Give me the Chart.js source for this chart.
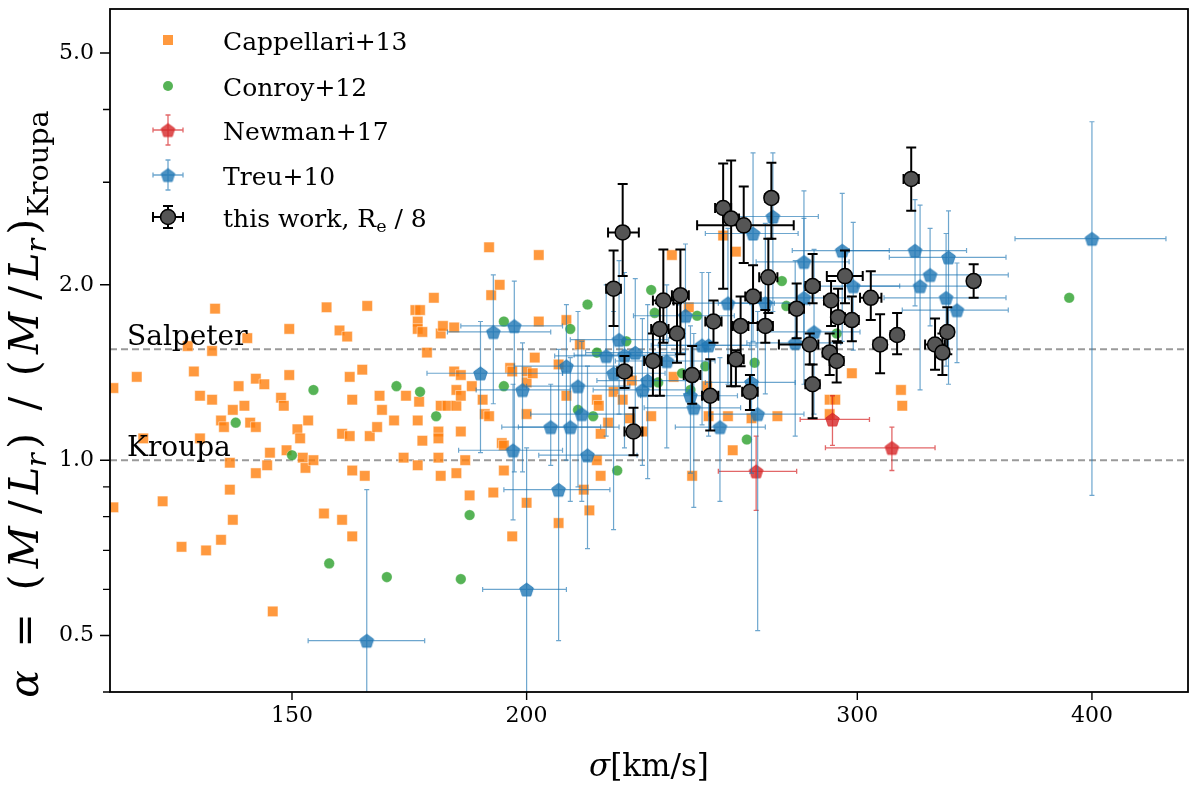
<!DOCTYPE html>
<html><head><meta charset="utf-8">
<script src="https://cdn.jsdelivr.net/npm/chart.js@4.4.1/dist/chart.umd.min.js"></script>
<style>html,body{margin:0;padding:0;background:#fff;}#wrap{width:1200px;height:788px;}</style>
</head><body><div id="wrap"><canvas id="c" width="1200" height="788"></canvas></div>
<script>
// ---------- data ----------
const xTickValues = [150, 200, 300, 400];
const xTickLabels = ['150', '200', '300', '400'];
const yTickValues = [0.5, 1.0, 2.0, 5.0];
const yTickLabels = ['0.5', '1.0', '2.0', '5.0'];
const yMinorTicks = [0.4, 0.6, 0.7, 0.8, 0.9, 3, 4];
const xRange = [120, 450];
const yRange = [0.40, 5.95];
const salpeterLevel = 1.55;
const kroupaLevel = 1.0;

const cappSigma = [120.5,124,120.5,125,128,131,135,137.5,139.5,132,136.5,133,134,136,136,134,137.5,138,139,139,139.5,140.5,141.5,142,142.5,143.5,143.5,145,143.5,145.5,146,148,148.5,149,149.5,149.5,151,151.5,152,152.5,153,154,156,159.5,156.5,159,160.5,159.5,161,161.5,161,161.5,161.5,164,164.5,163.5,165,166.5,167,167.5,170,146.5,172.5,172,174.5,175.5,175,175,176,175,175.3,175,176,177,178.5,180,180.5,183,179.5,179.5,179.5,180,180,181.5,183.5,183.5,184.5,183,184.5,184.5,183.5,185.5,186.5,187,189.5,190,191,191,191.5,193.5,192,194,194.5,194.5,196,196.5,196.5,200,200,200,200,201.5,202,203,203,208,208,210,210,213.5,214.5,216,218,218.5,218,219,219,221,222.5,225,227,227.5,230.5,233,239,239.5,244,245,249.5,250,254.5,256,258.5,257.5,263.5,272,290,292,290,298,316.5,317];
const cappAlpha = [1.33,1.39,0.83,1.09,0.85,0.71,0.70,0.73,0.79,1.57,1.82,1.42,1.29,1.27,1.54,1.09,1.17,1.14,0.99,0.89,1.22,1.34,1.24,1.62,1.16,1.14,1.38,1.35,0.95,0.98,1.03,1.28,1.24,1.04,1.68,1.40,1.13,1.09,1.01,0.97,1.17,1.00,0.81,0.79,1.83,1.67,1.63,1.11,1.10,1.27,1.39,0.96,0.74,0.94,1.84,1.43,1.10,1.14,1.29,1.22,1.17,0.55,1.29,1.01,1.81,1.81,1.73,1.68,1.66,1.17,1.26,0.98,1.08,1.53,1.90,1.65,1.70,1.69,1.01,1.12,1.09,0.94,1.24,1.24,1.24,1.32,1.29,1.42,1.40,1.12,0.95,1.00,0.87,1.34,1.27,1.20,1.19,2.32,1.92,2.00,0.88,1.07,1.06,0.96,1.44,1.42,0.74,1.42,1.36,1.20,0.845,1.41,1.50,2.25,1.73,1.46,0.78,1.74,1.29,1.58,0.89,0.82,1.27,1.24,1.00,0.94,1.11,1.16,1.31,1.27,1.18,1.37,1.12,1.19,2.25,1.39,1.83,0.94,1.34,1.19,2.43,1.19,2.28,1.04,1.18,1.19,1.27,1.27,1.20,1.41,1.32,1.24];

const conroySigma = [140,150,154,157,168.5,170.5,179,184.5,186.5,175.5,194.5,194.5,211,215.5,213,217,218,226,223.5,233,234,246.5,242,249,244.5,235,264.5,262,275,273.5,292.5,389];
const conroyAlpha = [1.16,1.02,1.32,0.665,0.63,1.34,1.19,0.625,0.805,1.31,1.73,1.34,1.68,1.85,1.22,1.19,1.53,1.60,0.96,1.96,1.79,1.77,1.41,1.45,1.32,1.36,1.47,1.085,1.84,2.03,1.65,1.90];

const newmanSigma = [265, 291, 313];
const newmanAlpha = [0.957, 1.175, 1.05];
const newmanSigmaLo = [253, 279.7, 288.5];
const newmanSigmaHi = [278.5, 304.5, 330];
const newmanAlphaLo = [0.82, 1.06, 0.96];
const newmanAlphaHi = [1.10, 1.29, 1.14];

const treuSigma   = [164.4,200,208,192,197,189,199,196.7,210,213,214,206,211,215.5,220.5,222.5,224,225.5,228.5,230.5,232,237.5,243,244.5,245.5,248,250,253.5,256,264,265.5,268,270.5,263.5,278,281,281,284.5,294.5,298.5,322,335.5,328,324,334.5,339,400];
const treuAlpha   = [0.49,0.60,0.89,1.66,1.70,1.41,1.32,1.04,1.45,1.34,1.20,1.14,1.14,1.02,1.51,1.41,1.61,1.515,1.53,1.32,1.37,1.48,1.77,1.29,1.23,1.575,1.575,1.14,1.86,2.45,1.20,1.86,2.62,1.36,1.59,2.19,1.90,1.66,2.29,1.99,2.29,2.23,2.08,1.99,1.90,1.81,2.40];
const treuSigmaLo = [153,189.5,194.5,181.5,184.5,177,188,184,197,200,201,194,198,203,207,209,211,212,215,217,218,223,228,230,231,233,235,240,241,249,250,253,255,249,262,265,265,268,277,281,297,312,305,300,310,317,364];
const treuSigmaHi = [176.5,210,221.5,206,209,209,211,209,224,227,228,219,224,229,235,237,238,240,243,245,246,252,258,259,260,263,265,268,271,279,281,283,286,278,294,297,297,301,312,316,343,360,361,348,360,361,438];
const treuAlphaLo = [0.27,0.30,0.49,1.25,0.955,1.03,0.955,0.79,1.00,0.90,0.85,0.98,0.85,0.705,1.10,0.76,1.20,1.05,1.10,0.98,0.93,1.05,1.30,0.95,0.83,1.15,1.10,0.85,1.35,1.60,0.51,1.30,1.80,0.95,1.10,1.60,1.35,1.20,1.60,1.545,1.84,1.35,1.70,1.32,1.45,1.47,0.87];
const treuAlphaHi = [0.89,1.05,1.55,2.08,2.03,1.73,1.59,1.35,1.85,1.80,1.60,1.35,1.50,1.45,2.00,1.80,2.20,2.10,2.05,1.75,1.85,2.00,2.35,1.70,1.65,2.10,2.10,1.50,2.50,3.37,1.80,2.55,3.37,1.85,2.20,2.90,2.60,2.30,2.87,2.56,2.80,2.68,2.50,2.74,2.45,2.18,3.81];

const workSigma   = [225,222.5,236.5,241.5,235.5,240.5,233.5,225.5,245,250.5,251.5,254.5,257,261,270,269,264,260,268,258.5,263,278.5,284,283,284,228,320.5,295.5,290.5,293,298,305,290,292.5,308.5,315,330,333,335,346];
const workAlpha   = [2.46,1.97,1.88,1.92,1.68,1.65,1.48,1.42,1.40,1.29,1.73,2.71,2.60,2.53,2.82,2.06,1.91,1.70,1.70,1.49,1.31,1.82,1.99,1.58,1.35,1.12,3.04,2.07,1.88,1.76,1.74,1.90,1.53,1.48,1.58,1.64,1.58,1.53,1.66,2.03];
const workSigmaLo = [221,220.5,233.5,239,233,238.5,231,223.5,242.5,248,249,252,254.5,246.5,268,266,261.5,257.5,265.5,256,260.5,276,281.5,272.5,281.5,225.5,317.5,289,288,290.5,295.5,301,287.5,290,306,312.5,326,330.5,332.5,343.5];
const workSigmaHi = [229.5,224.5,239.5,244,238,242.5,236,227.5,247.5,253,254,257,259.5,277.5,272,272,266.5,262.5,270.5,261,265.5,281,286.5,286,286.5,230.5,323.5,302,293,295.5,300.5,309,292.5,295,311,317.5,334,335.5,337.5,348.5];
const workAlphaLo = [2.07,1.70,1.59,1.52,1.29,1.47,1.29,1.33,1.25,1.125,1.59,1.97,1.34,2.18,2.40,1.79,1.72,1.45,1.59,1.34,1.22,1.62,1.86,1.46,1.18,1.02,2.68,1.86,1.70,1.59,1.60,1.74,1.40,1.36,1.41,1.52,1.43,1.40,1.52,1.90];
const workAlphaHi = [2.98,2.29,2.30,2.30,1.86,1.86,1.65,1.51,1.57,1.49,1.88,3.23,3.27,2.95,3.24,2.40,2.16,1.91,1.81,1.545,1.40,2.01,2.26,1.65,1.46,1.23,3.44,2.29,2.03,1.97,1.91,2.11,1.65,1.60,1.78,1.79,1.75,1.65,1.83,2.17];

const seriesNames = ['Cappellari+13', 'Conroy+12', 'Newman+17', 'Treu+10', 'this work, R', 'e', ' / 8'];

// ---------- helpers ----------
const FONT = "'DejaVu Serif', 'Liberation Serif', serif";
const pts = (xs, ys) => xs.map((v, i) => ({x: v, y: ys[i]}));
function pentagon(fill, stroke, r) {
  const c = document.createElement('canvas');
  const s = Math.ceil(r * 2 + 4);
  c.width = s; c.height = s;
  const g = c.getContext('2d');
  g.translate(s / 2, s / 2 + 0.8);
  g.beginPath();
  for (let i = 0; i < 5; i++) {
    const a = -Math.PI / 2 + i * 2 * Math.PI / 5;
    const px = r * Math.cos(a), py = r * Math.sin(a);
    if (i) g.lineTo(px, py); else g.moveTo(px, py);
  }
  g.closePath();
  g.fillStyle = fill; g.fill();
  g.lineWidth = 0.8; g.strokeStyle = stroke; g.stroke();
  return c;
}
const C = {
  orange: 'rgba(255,127,14,0.8)',
  green: 'rgba(44,160,44,0.8)',
  red: 'rgba(214,39,40,0.8)',
  redErr: 'rgba(214,39,40,0.7)',
  blue: 'rgba(31,119,180,0.8)',
  blueErr: 'rgba(31,119,180,0.65)',
  dark: '#555555'
};
const bluePent = pentagon(C.blue, 'rgba(31,119,180,0.9)', 7.2);
const redPent = pentagon(C.red, 'rgba(214,39,40,0.9)', 7.2);

const errPlugin = {
  id: 'errbars',
  beforeDatasetDraw(chart, args) {
    const ds = chart.data.datasets[args.index];
    if (!ds.err) return;
    const {ctx, chartArea: a, scales: {x, y}} = chart;
    const e = ds.err;
    ctx.save();
    ctx.beginPath(); ctx.rect(a.left, a.top, a.right - a.left, a.bottom - a.top); ctx.clip();
    ctx.strokeStyle = e.color; ctx.lineWidth = e.width; ctx.lineCap = 'butt';
    ds.data.forEach((p, i) => {
      const px = x.getPixelForValue(p.x), py = y.getPixelForValue(p.y);
      const x0 = x.getPixelForValue(e.xlo[i]), x1 = x.getPixelForValue(e.xhi[i]);
      const y0 = y.getPixelForValue(e.ylo[i]), y1 = y.getPixelForValue(e.yhi[i]);
      const c = e.cap;
      ctx.beginPath();
      ctx.moveTo(x0, py); ctx.lineTo(x1, py);
      ctx.moveTo(px, y0); ctx.lineTo(px, y1);
      ctx.moveTo(x0, py - c); ctx.lineTo(x0, py + c);
      ctx.moveTo(x1, py - c); ctx.lineTo(x1, py + c);
      ctx.moveTo(px - c, y0); ctx.lineTo(px + c, y0);
      ctx.moveTo(px - c, y1); ctx.lineTo(px + c, y1);
      ctx.stroke();
    });
    ctx.restore();
  }
};

function drawRuns(ctx, runs, size, x, y, rotate) {
  ctx.save();
  ctx.translate(x, y);
  if (rotate) ctx.rotate(-Math.PI / 2);
  let total = 0;
  const widths = runs.map(r => {
    ctx.font = (r.it ? 'italic ' : '') + (size * (r.s || 1)) + 'px ' + FONT;
    const w = ctx.measureText(r.t).width + (r.gap || 0) * size;
    total += w; return w;
  });
  let cx = -total / 2;
  ctx.fillStyle = '#000'; ctx.textBaseline = 'alphabetic'; ctx.textAlign = 'left';
  runs.forEach((r, i) => {
    ctx.font = (r.it ? 'italic ' : '') + (size * (r.s || 1)) + 'px ' + FONT;
    ctx.fillText(r.t, cx + (r.pre || 0) * size, (r.dy || 0) * size);
    cx += widths[i];
  });
  ctx.restore();
}

const decorPlugin = {
  id: 'decor',
  afterDatasetsDraw(chart) {
    const {ctx, chartArea: a, scales: {x, y}} = chart;
    ctx.save();
    ctx.fillStyle = '#000';
    ctx.font = '28px ' + FONT;
    ctx.textAlign = 'left'; ctx.textBaseline = 'alphabetic';
    ctx.fillText('Salpeter', a.left + 17, y.getPixelForValue(salpeterLevel) - 4);
    ctx.fillText('Kroupa', a.left + 17, y.getPixelForValue(kroupaLevel) - 4);
    // frame
    ctx.strokeStyle = '#000'; ctx.lineWidth = 1.8;
    ctx.strokeRect(a.left, a.top, a.right - a.left, a.bottom - a.top);
    // ticks
    ctx.lineWidth = 1.4;
    ctx.beginPath();
    xTickValues.forEach(v => { const p = x.getPixelForValue(v); ctx.moveTo(p, a.bottom); ctx.lineTo(p, a.bottom + 8); });
    yTickValues.forEach(v => { const p = y.getPixelForValue(v); ctx.moveTo(a.left, p); ctx.lineTo(a.left - 10, p); });
    yMinorTicks.forEach(v => { const p = y.getPixelForValue(v); ctx.moveTo(a.left, p); ctx.lineTo(a.left - 7, p); });
    ctx.stroke();
    // axis titles
    drawRuns(ctx, [{t: 'σ', it: true}, {t: '[km/s]'}], 31, (a.left + a.right) / 2, 776, false);
    drawRuns(ctx, [
      {t: 'α', it: true}, {t: '=', gap: 1.1, pre: 0.55}, {t: '(', gap: 0.15}, {t: 'M', it: true, gap: 0.15}, {t: '/', gap: 0.3, pre: 0.15}, {t: 'L', it: true},
      {t: 'r', it: true, s: 0.7, dy: 0.2, gap: 0.05}, {t: ')', gap: 0.1, pre: 0.05}, {t: '/', gap: 1.0, pre: 0.5}, {t: '(', gap: 0.15}, {t: 'M', it: true, gap: 0.15}, {t: '/', gap: 0.3, pre: 0.15},
      {t: 'L', it: true}, {t: 'r', it: true, s: 0.7, dy: 0.2, gap: 0.05}, {t: ')', gap: 0.1, pre: 0.05}, {t: 'Kroupa', s: 0.7, dy: 0.25}
    ], 41, 38, 404, true);
    // legend
    const lx = 168, tx = 223, rows = [40, 86, 130, 175, 217];
    ctx.fillStyle = C.orange; ctx.fillRect(lx - 5, rows[0] - 5, 10, 10);
    ctx.fillStyle = C.green; ctx.beginPath(); ctx.arc(lx, rows[1], 5, 0, 2 * Math.PI); ctx.fill();
    const cross = (cy, col, w, v, cap, lw) => {
      ctx.strokeStyle = col; ctx.lineWidth = lw; ctx.beginPath();
      ctx.moveTo(lx - w, cy); ctx.lineTo(lx + w, cy); ctx.moveTo(lx, cy - v); ctx.lineTo(lx, cy + v);
      ctx.moveTo(lx - w, cy - cap); ctx.lineTo(lx - w, cy + cap); ctx.moveTo(lx + w, cy - cap); ctx.lineTo(lx + w, cy + cap);
      ctx.moveTo(lx - cap, cy - v); ctx.lineTo(lx + cap, cy - v); ctx.moveTo(lx - cap, cy + v); ctx.lineTo(lx + cap, cy + v);
      ctx.stroke();
    };
    cross(rows[2], C.redErr, 15, 15, 2.5, 1.3);
    ctx.drawImage(redPent, lx - redPent.width / 2, rows[2] - redPent.height / 2);
    cross(rows[3], C.blueErr, 15, 15, 2.5, 1.3);
    ctx.drawImage(bluePent, lx - bluePent.width / 2, rows[3] - bluePent.height / 2);
    cross(rows[4], '#000', 15, 11, 5, 2);
    ctx.fillStyle = C.dark; ctx.strokeStyle = '#000'; ctx.lineWidth = 1.5;
    ctx.beginPath(); ctx.arc(lx, rows[4], 7.5, 0, 2 * Math.PI); ctx.fill(); ctx.stroke();
    ctx.fillStyle = '#000'; ctx.font = '25px ' + FONT;
    for (let i = 0; i < 4; i++) ctx.fillText(seriesNames[i], tx, rows[i] + 10);
    let xx = tx;
    ctx.fillText(seriesNames[4], xx, rows[4] + 10); xx += ctx.measureText(seriesNames[4]).width;
    ctx.font = '17.5px ' + FONT; ctx.fillText(seriesNames[5], xx, rows[4] + 15); xx += ctx.measureText(seriesNames[5]).width;
    ctx.font = '25px ' + FONT; ctx.fillText(seriesNames[6], xx, rows[4] + 10);
    ctx.restore();
  }
};

const tickFont = {family: FONT, size: 22};
new Chart(document.getElementById('c'), {
  type: 'scatter',
  data: {
    datasets: [
      {type: 'line', data: [{x: xRange[0], y: salpeterLevel}, {x: xRange[1], y: salpeterLevel}], borderColor: '#9a9a9a', borderWidth: 2, borderDash: [7, 4], pointRadius: 0, order: 10},
      {type: 'line', data: [{x: xRange[0], y: kroupaLevel}, {x: xRange[1], y: kroupaLevel}], borderColor: '#9a9a9a', borderWidth: 2, borderDash: [7, 4], pointRadius: 0, order: 10},
      {label: 'Cappellari+13', data: pts(cappSigma, cappAlpha), pointStyle: 'rect', pointRadius: 7.4, backgroundColor: C.orange, borderColor: 'rgba(255,255,255,0.8)', borderWidth: 0.6, order: 5},
      {label: 'Conroy+12', data: pts(conroySigma, conroyAlpha), pointStyle: 'circle', pointRadius: 5.3, backgroundColor: C.green, borderColor: 'rgba(255,255,255,0.6)', borderWidth: 0.5, order: 4},
      {label: 'Newman+17', data: pts(newmanSigma, newmanAlpha), pointStyle: redPent, pointRadius: 7, order: 3,
        err: {xlo: newmanSigmaLo, xhi: newmanSigmaHi, ylo: newmanAlphaLo, yhi: newmanAlphaHi, color: C.redErr, width: 1.3, cap: 2.5}},
      {label: 'Treu+10', data: pts(treuSigma, treuAlpha), pointStyle: bluePent, pointRadius: 7, order: 2,
        err: {xlo: treuSigmaLo, xhi: treuSigmaHi, ylo: treuAlphaLo, yhi: treuAlphaHi, color: C.blueErr, width: 1.2, cap: 2.5}},
      {label: 'this work', data: pts(workSigma, workAlpha), pointStyle: 'circle', pointRadius: 7.5, backgroundColor: C.dark, borderColor: '#000', borderWidth: 1.5, order: 1,
        err: {xlo: workSigmaLo, xhi: workSigmaHi, ylo: workAlphaLo, yhi: workAlphaHi, color: '#000', width: 2, cap: 5}}
    ]
  },
  options: {
    responsive: false, animation: false, devicePixelRatio: 1,
    layout: {padding: {left: 0, right: 12, top: -5, bottom: 0}},
    plugins: {legend: {display: false}, tooltip: {enabled: false}},
    scales: {
      x: {
        type: 'logarithmic', min: xRange[0], max: xRange[1],
        grid: {display: false, drawTicks: false}, border: {display: false},
        afterBuildTicks: s => { s.ticks = xTickValues.map(v => ({value: v})); },
        afterFit: s => { s.height = 96; s.paddingLeft = 0; s.paddingRight = 0; },
        ticks: {autoSkip: false, maxRotation: 0, padding: 11, color: '#000', font: tickFont,
          callback: (v) => { const i = xTickValues.indexOf(v); return i >= 0 ? xTickLabels[i] : ''; }}
      },
      y: {
        type: 'logarithmic', min: yRange[0], max: yRange[1],
        grid: {display: false, drawTicks: false}, border: {display: false},
        afterBuildTicks: s => { s.ticks = yTickValues.map(v => ({value: v})); },
        afterFit: s => { s.width = 110; s.paddingTop = 0; s.paddingBottom = 0; },
        ticks: {autoSkip: false, padding: 16, color: '#000', font: tickFont,
          callback: (v) => { const i = yTickValues.indexOf(v); return i >= 0 ? yTickLabels[i] : ''; }}
      }
    }
  },
  plugins: [errPlugin, decorPlugin]
});
</script>
</body></html>
